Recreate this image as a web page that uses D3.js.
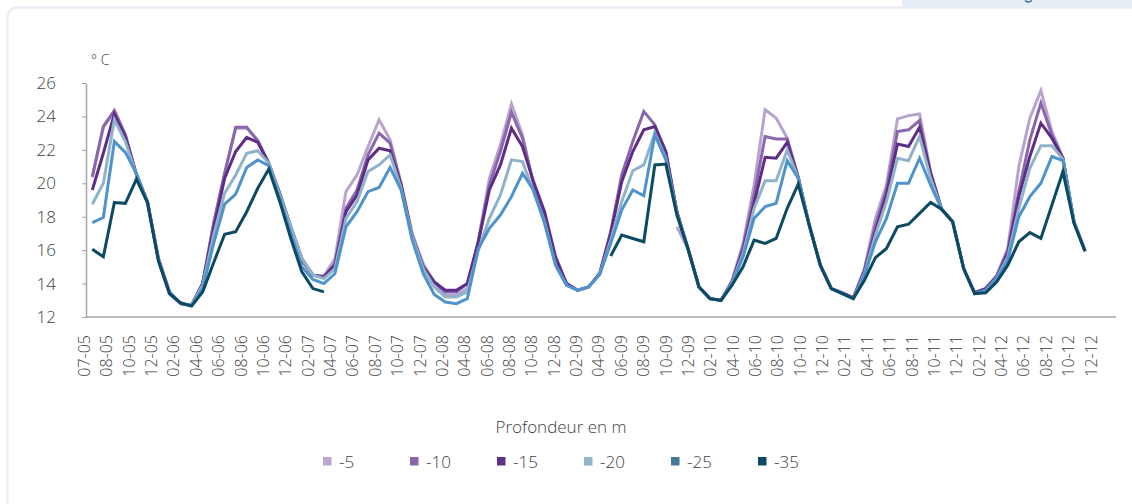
<!DOCTYPE html>
<html>
<head>
<meta charset="utf-8">
<script src="https://cdn.jsdelivr.net/npm/d3@7"></script>
<style>
  html, body { margin: 0; padding: 0; background: #ffffff; }
  svg { display: block; font-family: "Open Sans", "Noto Sans", sans-serif; }
</style>
</head>
<body>
<script>
// ---------- DATA ----------
const xLabels = ["07-05","08-05","10-05","12-05","02-06","04-06","06-06","08-06","10-06","12-06",
  "02-07","04-07","06-07","08-07","10-07","12-07","02-08","04-08","06-08","08-08",
  "10-08","12-08","02-09","04-09","06-09","08-09","10-09","12-09","02-10","04-10",
  "06-10","08-10","10-10","12-10","02-11","04-11","06-11","08-11","10-11","12-11",
  "02-12","04-12","06-12","08-12","10-12","12-12"];
const yTicks = [12, 14, 16, 18, 20, 22, 24, 26];
const seriesNames = ["-5", "-10", "-15", "-20", "-25", "-35"];

const s5 = [20.35,23.35,24.3,22.9,20.5,18.9,15.5,13.5,12.8,12.7,
  14.0,17.6,20.6,23.3,23.3,22.55,21.2,19.4,17.4,15.5,
  14.5,14.45,15.5,19.5,20.5,22.2,23.8,22.6,20.0,17.0,
  15.2,14.1,13.3,13.3,13.7,16.6,20.3,22.3,24.75,22.9,
  19.9,17.8,15.2,14.0,null,null,null,null,null,null,
  null,null,null,17.4,16.1,13.8,13.1,13.0,14.2,16.4,
  19.9,24.4,23.9,22.7,20.35,17.5,15.1,13.7,13.45,13.15,
  14.9,17.9,19.9,23.85,24.05,24.15,20.7,18.45,17.7,14.9,
  13.45,13.7,14.5,16.1,21.0,23.9,25.55,23.1,21.5,17.7,
  15.9];
const s10 = [20.4,23.4,24.35,22.9,20.5,18.9,15.5,13.5,12.8,12.7,
  14.0,17.6,20.6,23.35,23.35,22.55,21.2,19.4,17.4,15.5,
  14.5,14.4,15.2,18.5,19.6,21.7,23.0,22.4,19.9,16.9,
  15.0,14.1,13.5,13.5,14.0,16.5,19.9,21.9,24.25,22.7,
  20.0,17.9,15.3,14.0,13.6,13.8,14.6,17.1,20.5,22.5,
  24.3,23.5,21.8,18.3,16.1,13.8,13.1,13.0,14.1,16.2,
  19.3,22.8,22.65,22.65,20.35,17.5,15.1,13.7,13.45,13.15,
  14.8,17.5,19.6,23.1,23.2,23.75,20.6,18.45,17.7,14.9,
  13.45,13.7,14.45,16.0,19.5,22.6,24.8,22.9,21.5,17.7,
  15.95];
const s15 = [19.6,21.8,24.15,22.75,20.5,18.9,15.4,13.4,12.8,12.7,
  14.0,17.3,20.3,21.9,22.75,22.45,21.2,19.3,17.3,15.4,
  14.5,14.4,15.1,18.3,19.3,21.4,22.1,21.95,19.9,16.8,
  15.0,14.1,13.6,13.6,14.0,16.5,19.6,21.1,23.3,22.2,
  20.1,18.3,15.6,14.0,13.6,13.8,14.6,17.0,20.1,21.9,
  23.2,23.4,21.9,18.3,16.1,13.8,13.1,13.0,14.1,16.0,
  18.8,21.55,21.5,22.45,20.35,17.5,15.1,13.7,13.45,13.15,
  14.7,17.1,19.3,22.35,22.2,23.35,20.6,18.45,17.7,14.9,
  13.45,13.7,14.4,15.8,19.2,21.6,23.6,22.7,21.5,17.7,
  15.95];
const s20 = [18.75,20.0,23.8,22.5,20.5,18.9,15.4,13.4,12.8,12.7,
  13.9,16.9,19.4,20.5,21.8,21.95,21.2,19.3,17.4,15.5,
  14.5,14.3,14.9,17.9,18.9,20.7,21.1,21.7,19.7,16.8,
  14.9,13.8,13.2,13.2,13.5,16.0,17.9,19.3,21.4,21.3,
  19.5,17.7,15.1,13.9,13.6,13.8,14.55,16.6,18.9,20.75,
  21.1,23.0,21.5,18.2,16.1,13.8,13.1,13.0,14.05,15.8,
  18.5,20.15,20.15,22.0,20.3,17.5,15.1,13.7,13.4,13.1,
  14.6,16.9,18.9,21.5,21.35,22.8,20.3,18.45,17.7,14.9,
  13.4,13.6,14.35,15.6,18.5,20.9,22.25,22.25,21.45,17.7,
  15.95];
const s25 = [17.65,17.95,22.5,21.85,20.6,18.85,15.4,13.5,12.8,12.7,
  13.7,16.4,18.75,19.35,20.95,21.4,21.05,19.1,17.0,15.0,
  14.25,14.0,14.6,17.4,18.3,19.5,19.75,20.95,19.6,16.6,
  14.6,13.35,12.9,12.8,13.1,16.1,17.3,18.1,19.2,20.6,
  19.6,17.6,15.1,13.9,13.6,13.8,14.55,16.4,18.4,19.6,
  19.25,22.9,21.4,18.2,16.1,13.8,13.1,13.0,14.0,15.6,
  17.9,18.6,18.8,21.35,20.3,17.5,15.1,13.7,13.4,13.1,
  14.5,16.5,17.9,20.0,20.0,21.5,19.9,18.45,17.7,14.9,
  13.4,13.6,14.3,15.4,18.0,19.2,20.0,21.6,21.35,17.7,
  15.95];
const s35 = [16.05,15.6,18.85,18.8,20.25,18.85,15.35,13.4,12.85,12.65,
  13.5,15.25,16.95,17.1,18.3,19.7,20.85,18.9,16.7,14.7,
  13.7,13.5,null,null,null,null,null,null,null,null,
  null,null,null,null,null,null,null,null,null,null,
  null,null,null,null,null,null,null,15.65,16.9,16.7,
  16.5,21.1,21.15,18.1,16.1,13.8,13.1,13.0,13.9,15.0,
  16.6,16.4,16.7,18.5,19.95,17.5,15.1,13.7,13.4,13.1,
  14.2,15.55,16.1,17.4,17.55,18.2,18.85,18.45,17.7,14.9,
  13.4,13.45,14.1,15.1,16.5,17.05,16.7,18.7,20.7,17.6,
  15.95];

const seriesValues = [s5, s10, s15, s20, s25, s35];
const lineColors   = ["#b8a4cf", "#8a66ac", "#5e2d87", "#91b3c9", "#4e93cb", "#0b4a62"];
const legendColors = ["#b9a6d1", "#8a67aa", "#5f3087", "#94b4c9", "#467898", "#0d4a62"];

// ---------- LAYOUT ----------
const W = 1132, H = 504;
const svg = d3.select("body").append("svg").attr("width", W).attr("height", H);

// card frame and cut-off tab at the top right
svg.append("rect").attr("x", 902).attr("y", 0).attr("width", 232).attr("height", 7.5).attr("fill", "#e7eef6");
svg.append("path").attr("d", "M1025,0.5 Q1028,3.5 1032,0.5").attr("fill", "none")
  .attr("stroke", "#2a6a8a").attr("stroke-width", 1.3);
svg.append("rect").attr("x", 7.5).attr("y", 7.5).attr("width", 1150).attr("height", 540)
  .attr("rx", 10).attr("fill", "#ffffff").attr("stroke", "#e5edf5").attr("stroke-width", 2);

const x = d3.scaleLinear().domain([0, s35.length - 1]).range([92.3, 1085]);
const xl = d3.scalePoint().domain(xLabels).range([84, 1090.5]);
const y = d3.scaleLinear().domain([12, 26]).range([317, 83]);

// y axis
const yAxis = svg.append("g").attr("transform", "translate(86,0)")
  .call(d3.axisLeft(y).tickValues(yTicks).tickSize(4).tickSizeOuter(0).tickPadding(26));
yAxis.select(".domain").attr("stroke", "#a6a6a6").attr("stroke-width", 1.5);
yAxis.selectAll(".tick line").attr("stroke", "#a6a6a6").attr("stroke-width", 1);
yAxis.selectAll(".tick text").attr("font-size", 17).attr("fill", "#404040")
  .attr("font-family", "'Open Sans', sans-serif").attr("font-weight", 300);

// unit
svg.append("text").attr("x", 91).attr("y", 65).attr("font-size", 14).attr("fill", "#404040")
  .attr("font-weight", 300).text("° C");

// x axis line
svg.append("line").attr("x1", 86).attr("x2", 1116).attr("y1", y(12)).attr("y2", y(12))
  .attr("stroke", "#a6a6a6").attr("stroke-width", 1.5);

// x labels (rotated)
svg.append("g").selectAll("text").data(xLabels).join("text")
  .attr("transform", d => `translate(${xl(d)},335) rotate(-90)`)
  .attr("text-anchor", "end")
  .attr("dominant-baseline", "central")
  .attr("font-size", 16).attr("font-weight", 300).attr("fill", "#404040")
  .text(d => d);

// lines
const line = d3.line().defined(d => d != null).x((d, i) => x(i)).y(d => y(d));
svg.append("g").selectAll("path").data(seriesValues).join("path")
  .attr("d", d => line(d))
  .attr("fill", "none")
  .attr("stroke", (d, i) => lineColors[i])
  .attr("stroke-width", 3)
  .attr("stroke-linejoin", "miter")
  .attr("stroke-miterlimit", 4);

// legend
svg.append("text").attr("x", 561).attr("y", 433).attr("text-anchor", "middle")
  .attr("font-size", 17).attr("font-weight", 300).attr("fill", "#404040").text("Profondeur en m");
const legX = d3.scalePoint().domain(seriesNames).range([323, 758]);
const leg = svg.append("g").selectAll("g").data(seriesNames).join("g")
  .attr("transform", d => `translate(${legX(d)},457)`);
leg.append("rect").attr("width", 8.5).attr("height", 8.5).attr("fill", (d, i) => legendColors[i]);
leg.append("text").attr("x", 16).attr("y", 10.5).attr("font-size", 17).attr("font-weight", 300)
  .attr("fill", "#404040").text(d => d);
</script>
</body>
</html>
